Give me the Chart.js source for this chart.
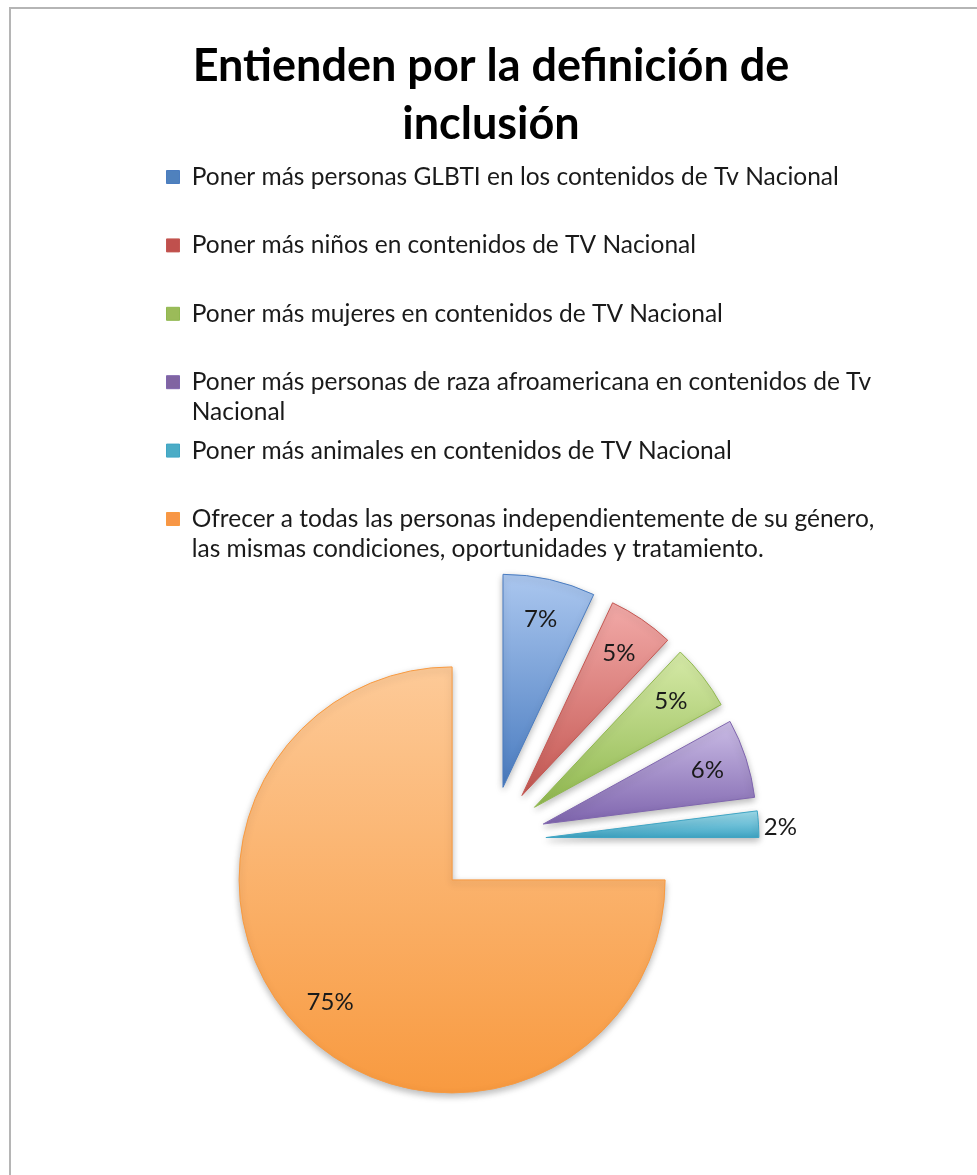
<!DOCTYPE html>
<html lang="es">
<head>
<meta charset="utf-8">
<title>Entienden por la definición de inclusión</title>
<script src="https://cdn.jsdelivr.net/npm/chart.js@4.4.1/dist/chart.umd.min.js"></script>
<style>
  html, body { margin: 0; padding: 0; background: #fff; overflow: hidden; }
  #frame { position: absolute; left: 9px; top: 7px; width: 1100px; height: 1300px;
           border: 2px solid #b5b5b5; box-sizing: border-box; }
  #wrap { position: absolute; left: 0; top: 0; width: 977px; height: 1175px; }
</style>
</head>
<body>
<div id="frame"></div>
<div id="wrap"><canvas id="inclusionChart" width="977" height="1175"></canvas></div>
<script>
// datos
const titleLines = ["Entienden por la definición de", "inclusión"];
const categories = [
    "Poner más personas GLBTI en los contenidos de Tv Nacional",
    "Poner más niños en contenidos de TV Nacional",
    "Poner más mujeres en contenidos de TV Nacional",
    ["Poner más personas de raza afroamericana en contenidos de Tv", "Nacional"],
    "Poner más animales en contenidos de TV Nacional",
    ["Ofrecer a todas las personas independientemente de su género,",
     "las mismas condiciones, oportunidades y tratamiento."]
];
const percentages = [7, 5, 5, 6, 2, 75];

// estilos
const baseColors = ["#4f81bd", "#c0504d", "#9bbb59", "#8064a2", "#4bacc6", "#f79646"];
const lightColors = ["#abc7ef", "#f2aaa8", "#d6eaa8", "#cbbde6", "#9fdcec", "#fdca98"];
const darkColors = ["#4a7cc0", "#c45752", "#90b84f", "#7f65ae", "#3fa5c4", "#f89a40"];
const EXPLODE = 55;   // separación de cada porción
const RADIUS = 213;

Chart.defaults.font.family = "Lato";

function verticalExtent(arc) {
    const {y, startAngle, endAngle, outerRadius} = arc;
    const ys = [y, y + Math.sin(startAngle) * outerRadius, y + Math.sin(endAngle) * outerRadius];
    const has = a => (startAngle <= a && a <= endAngle) || (startAngle <= a + 2 * Math.PI && a + 2 * Math.PI <= endAngle);
    if (has(-Math.PI / 2)) ys.push(y - outerRadius);
    if (has(Math.PI / 2)) ys.push(y + outerRadius);
    return [Math.min(...ys), Math.max(...ys)];
}

// dibuja las porciones separadas con degradado y sombra
const explodedPie = {
    id: "explodedPie",
    afterLayout(chart) {
        // el texto largo de la leyenda sobresale de su caja: ampliar el recorte
        chart.legend.bottom += 40;
        chart.legend.height += 40;
        chart.legend.right += 130;
        chart.legend.width += 130;
    },
    beforeDatasetDraw(chart, args) {
        const ctx = chart.ctx;
        args.meta.data.forEach((arc, i) => {
            const mid = (arc.startAngle + arc.endAngle) / 2;
            const [top, bottom] = verticalExtent(arc);
            const fill = ctx.createLinearGradient(0, top, 0, bottom);
            fill.addColorStop(0, lightColors[i]);
            fill.addColorStop(1, darkColors[i]);

            const original = arc.options;
            arc.options = Object.assign({}, original, {backgroundColor: fill, offset: 0});
            ctx.save();
            ctx.translate(Math.cos(mid) * EXPLODE, Math.sin(mid) * EXPLODE);
            ctx.shadowColor = "rgba(0,0,0,0.28)";
            ctx.shadowBlur = 7;
            ctx.shadowOffsetY = 3;
            arc.draw(ctx);
            ctx.restore();
            arc.options = original;
        });
        return false;
    },
    afterDatasetsDraw(chart) {
        const ctx = chart.ctx;
        const meta = chart.getDatasetMeta(0);
        const total = percentages.reduce((a, b) => a + b, 0);
        ctx.save();
        ctx.font = "24px Lato";
        ctx.fillStyle = "#1a1a1a";
        ctx.textAlign = "center";
        ctx.textBaseline = "middle";
        meta.data.forEach((arc, i) => {
            const mid = (arc.startAngle + arc.endAngle) / 2;
            const pct = Math.round(percentages[i] / total * 100);
            const r = pct < 3 ? arc.outerRadius + 22 : arc.outerRadius * 0.81;
            const d = EXPLODE + r;
            ctx.fillText(pct + "%", arc.x + Math.cos(mid) * d, arc.y + Math.sin(mid) * d + (pct < 3 ? 4 : 0));
        });
        ctx.restore();
    }
};

const ctx = document.getElementById("inclusionChart").getContext("2d");
new Chart(ctx, {
    type: "pie",
    data: {
        labels: categories,
        datasets: [{
            data: percentages,
            backgroundColor: baseColors,
            borderColor: darkColors,
            borderWidth: 1,
            radius: RADIUS
        }]
    },
    options: {
        responsive: false,
        animation: false,
        events: [],
        layout: {
            padding: {top: 0, left: 122.6, right: 117.6, bottom: 34.25}
        },
        plugins: {
            title: {
                display: true,
                text: titleLines,
                color: "#000",
                font: {size: 45, weight: "bold", lineHeight: "58px"},
                padding: {top: 37, bottom: -32.15}
            },
            legend: {
                position: "top",
                align: "start",
                labels: {
                    boxWidth: 13,
                    boxHeight: 13,
                    padding: 43.9,
                    color: "#1a1a1a",
                    font: {size: 24.5, lineHeight: "30px"}
                }
            },
            tooltip: {enabled: false}
        }
    },
    plugins: [explodedPie]
});
</script>
</body>
</html>
